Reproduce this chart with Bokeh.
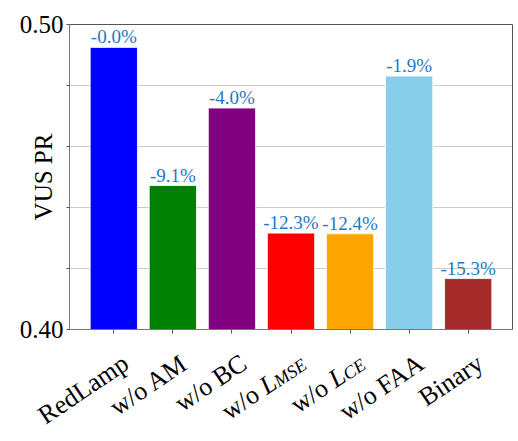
import math
from bokeh.plotting import figure
from bokeh.layouts import column
from bokeh.models import (ColumnDataSource, FactorRange, Range1d, FixedTicker,
                          PrintfTickFormatter, LabelSet, CustomLabelingPolicy)
from bokeh.embed import file_html
from bokeh.resources import INLINE

# ---------------- data ----------------
categories = ["RedLamp", "w/o AM", "w/o BC", "w/o L_MSE", "w/o L_CE", "w/o FAA", "Binary"]
values = [0.4925, 0.4472, 0.4726, 0.4316, 0.4314, 0.4831, 0.4167]
pct_labels = ["-0.0%", "-9.1%", "-4.0%", "-12.3%", "-12.4%", "-1.9%", "-15.3%"]
bar_colors = ["blue", "green", "purple", "red", "orange", "skyblue", "brown"]
tick_main = ["RedLamp", "w/o AM", "w/o BC", "w/o", "w/o", "w/o FAA", "Binary"]
tick_sym = ["", "", "", "L", "L", "", ""]
tick_sub = ["", "", "", "MSE", "CE", "", ""]
y_major = [0.40, 0.50]
y_minor = [0.42, 0.44, 0.46, 0.48]
y_start, y_end = 0.40, 0.50

FONT = "Liberation Serif"
LBL_SIZE = 26
SUB_SIZE = 18
ANG = math.radians(34)

W = 514
LEFT, RIGHT, TOP, FRAME_H = 69, 2, 24, 307
PAD = 0.25           # category padding on each side
B1 = 14              # main figure bottom border
H1 = TOP + FRAME_H + B1
H2 = 441 - H1 - 1    # label strip height

p = figure(width=W, height=H1, output_backend="svg", toolbar_location=None,
           x_range=FactorRange(*categories, range_padding=PAD, range_padding_units="absolute"),
           y_range=Range1d(y_start, y_end),
           min_border_left=LEFT, min_border_right=RIGHT, min_border_top=TOP,
           min_border_bottom=B1)
p.background_fill_color = "white"
p.border_fill_color = "white"
p.outline_line_color = "#555555"
p.outline_line_width = 1

src = ColumnDataSource(dict(cat=categories, val=values, pct=pct_labels, color=bar_colors))
p.vbar(x="cat", top="val", bottom=y_start, width=0.8, fill_color="color",
       line_color="white", line_width=0.8, source=src)

p.add_layout(LabelSet(x="cat", y="val", text="pct", source=src, text_align="center",
                      text_baseline="bottom", y_offset=0, text_font=FONT,
                      text_font_size="19px", text_color="#1f78c4"))

# y axis
p.yaxis.ticker = FixedTicker(ticks=y_major, minor_ticks=y_minor)
p.yaxis.formatter = PrintfTickFormatter(format="%.2f")
p.yaxis.major_label_text_font = FONT
p.yaxis.major_label_text_font_size = "25px"
p.yaxis.major_label_text_color = "black"
p.yaxis.major_tick_out = 3
p.yaxis.major_tick_in = 0
p.yaxis.minor_tick_out = 3
p.yaxis.minor_tick_in = 0
p.yaxis.major_label_standoff = 3
p.yaxis.axis_line_color = "#777777"
p.yaxis.major_tick_line_color = "#555555"
p.yaxis.minor_tick_line_color = "#555555"
p.yaxis.axis_label = "VUS PR"
p.yaxis.axis_label_text_font = FONT
p.yaxis.axis_label_text_font_size = "25px"
p.yaxis.axis_label_text_font_style = "normal"
p.yaxis.axis_label_text_color = "black"
p.yaxis.axis_label_standoff = -40

p.ygrid.ticker = FixedTicker(ticks=y_major, minor_ticks=y_minor)
p.ygrid.grid_line_color = "#cccccc"
p.ygrid.minor_grid_line_color = "#cccccc"
p.xgrid.grid_line_color = None

# x axis: tick marks only; the rotated labels live in the strip below
p.xaxis.major_label_policy = CustomLabelingPolicy(
    code="for (const i of Array.from(indices)) indices.unset(i); return indices")
p.xaxis.major_label_standoff = 0
p.xaxis.major_label_text_font_size = "8px"
p.xaxis.major_tick_out = 4
p.xaxis.major_tick_in = 0
p.xaxis.axis_line_color = "#777777"
p.xaxis.major_tick_line_color = "#555555"

# ---------------- label strip ----------------
n = len(categories)
k = (W - LEFT - RIGHT) / (n + 2 * PAD)          # px per category unit
p2 = figure(width=W, height=H2, output_backend="svg", toolbar_location=None,
            x_range=Range1d(-PAD - LEFT / k, n + PAD + RIGHT / k),
            y_range=Range1d(-H2, 0),
            x_axis_location=None, y_axis_location=None,
            min_border_left=0, min_border_right=0, min_border_top=0, min_border_bottom=0)
for fig in (p, p2):
    try:
        fig.frame_align = False
    except Exception:
        pass
p2.outline_line_color = None
p2.grid.grid_line_color = None
p2.background_fill_color = "white"
p2.border_fill_color = "white"

c, s = math.cos(ANG), math.sin(ANG)
dx0 = 12                        # label baseline end, right of tick (px)
dy0 = 29 - B1                   # label baseline end, below strip top (px)
L_w = 0.556 * LBL_SIZE
space_w = 0.25 * LBL_SIZE
drop = 3
sub_em = {"MSE": 0.833 + 0.5 + 0.611, "CE": 0.667 + 0.611}
centers = [i + 0.5 for i in range(n)]

pieces = dict(x=[], y=[], txt=[], size=[], style=[])


def put(i, text, back, down, size, style):
    # back: distance back along the baseline, down: perpendicular drop (px)
    sx = dx0 - back * c + down * s
    sy = dy0 + back * s + down * c
    pieces["x"].append(centers[i] + sx / k)
    pieces["y"].append(-sy)
    pieces["txt"].append(text)
    pieces["size"].append(f"{size}px")
    pieces["style"].append(style)


for i in range(n):
    if tick_sym[i]:
        ws = sub_em[tick_sub[i]] * SUB_SIZE
        put(i, tick_sub[i], 0, drop, SUB_SIZE, "italic")
        put(i, tick_sym[i], ws, 0, LBL_SIZE, "italic")
        put(i, tick_main[i], ws + L_w + space_w, 0, LBL_SIZE, "normal")
    else:
        put(i, tick_main[i], 0, 0, LBL_SIZE, "normal")

p2.text(x="x", y="y", text="txt", source=ColumnDataSource(pieces), angle=ANG,
        text_align="right", text_baseline="alphabetic", text_font=FONT,
        text_font_size="size", text_font_style="style", text_color="black")

layout = column(p, p2, spacing=0)
open("out.html", "w").write(file_html(layout, INLINE))
